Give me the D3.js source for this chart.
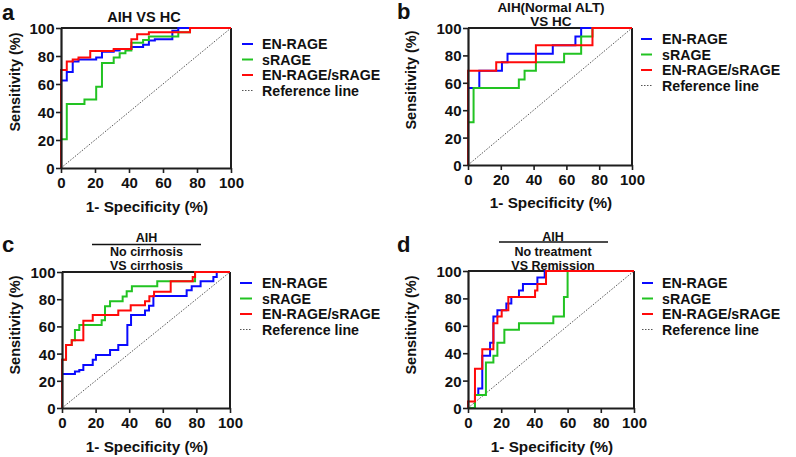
<!DOCTYPE html>
<html><head><meta charset="utf-8">
<script src="https://cdn.jsdelivr.net/npm/d3@7"></script>
<style>
body{margin:0;background:#fff}
svg{display:block}
text{font-family:"Liberation Sans",Arial,sans-serif;font-weight:bold;fill:#111}
</style>
</head><body>
<svg id="chart" width="796" height="457"></svg>
<script>
// ---------- data (1-specificity %, sensitivity %) ----------
const tickValues = [0, 20, 40, 60, 80, 100];
const legendLabels = ["EN-RAGE", "sRAGE", "EN-RAGE/sRAGE", "Reference line"];
const seriesColors = ["#0a0aff", "#22c322", "#ff0a0a"];

// Panel a: AIH VS HC
const aEnrageX = [0, 0, 3.4, 6.9, 10.3, 20.7, 24.1, 31, 34.5, 41.4, 48.3, 51.7, 55.2, 65.5, 69, 100];
const aEnrageY = [0, 62.5, 68.5, 76, 77.5, 79, 83, 84, 85, 86.5, 88, 91, 92, 98, 100, 100];
const aSrageX = [0, 0, 3.4, 13.8, 20.7, 24.1, 31, 34.5, 37.9, 41.4, 48.3, 51.7, 69, 75.9, 100];
const aSrageY = [0, 20.5, 45.7, 49, 58, 75, 79, 82, 84, 89.5, 91.5, 94, 97, 100, 100];
const aRatioX = [0, 0, 3.4, 6.9, 10.3, 17.2, 31, 41.4, 44.8, 51.7, 75.9, 100];
const aRatioY = [0, 70, 76, 77.5, 79, 83.5, 85, 92, 95.5, 97, 100, 100];

// Panel b: AIH(Normal ALT) VS HC
const bEnrageX = [0, 0, 6.9, 20.7, 24.1, 51.7, 65.5, 69, 100];
const bEnrageY = [0, 56.25, 68.75, 75, 81.25, 87.5, 93.75, 100, 100];
const bSrageX = [0, 0, 3.4, 31, 34.5, 41.4, 58.6, 69, 75.9, 100];
const bSrageY = [0, 31.25, 56.25, 62.5, 68.75, 75, 81.25, 93.75, 100, 100];
const bRatioX = [0, 0, 17.2, 41.4, 75.9, 100];
const bRatioY = [0, 68.75, 75, 87.5, 100, 100];

// Panel c: AIH No cirrhosis VS cirrhosis
const cEnrageX = [0, 0, 7.7, 10.3, 12.7, 18.3, 20.2, 28.6, 33.5, 38.9, 41.1, 49.4, 51.8, 54.4, 74.2, 77.2, 82.5, 90.1, 92.1, 100];
const cEnrageY = [0, 25, 26.8, 28, 31.7, 35.4, 39, 42.7, 46.3, 61, 68.3, 71.7, 75.1, 82.4, 86.6, 89.5, 93.2, 96.3, 100, 100];
const cSrageX = [0, 0, 2.4, 5.8, 7.7, 10.3, 23.6, 25.6, 28.6, 36.1, 38.5, 41.6, 56.7, 79.2, 100];
const cSrageY = [0, 35.4, 46.3, 49.8, 57.4, 61, 64.6, 74.9, 78.5, 82, 85.9, 89.5, 93.2, 100, 100];
const cRatioX = [0, 0, 2.4, 5.8, 12.7, 18.3, 33.5, 40.9, 49.4, 52, 54.8, 64.7, 77.8, 79.2, 100];
const cRatioY = [0, 35.4, 46.3, 49.8, 64.1, 68.3, 71.7, 75.6, 78.5, 82.2, 85.4, 93.2, 96.3, 100, 100];

// Panel d: AIH No treatment VS Remission
const dEnrageX = [0, 4.2, 6.2, 8.6, 13.3, 15.3, 17.7, 23.1, 26.1, 30.7, 33.1, 41.8, 46.2, 100];
const dEnrageY = [0, 9.5, 14.3, 38.1, 47.6, 66.7, 71.4, 76.2, 81, 85.7, 90.5, 95.2, 100, 100];
const dSrageX = [0, 4.2, 10.8, 15.3, 17.7, 21.9, 30.7, 51.4, 57.8, 60, 100];
const dSrageY = [0, 9.5, 33.3, 38.1, 47.6, 57.1, 61.9, 66.7, 81, 100, 100];
const dRatioX = [0, 0, 4.2, 8.6, 15.3, 17.7, 20.3, 24.3, 40.4, 41.8, 47, 100];
const dRatioY = [0, 4.76, 28.6, 42.9, 61.9, 66.7, 71.4, 81, 85.7, 90.5, 100, 100];

const aTitle = ["AIH VS HC"];
const bTitle = ["AIH(Normal ALT)", "VS HC"];
const cTitle = ["AIH", "No cirrhosis", "VS cirrhosis"];
const dTitle = ["AIH", "No treatment", "VS Remission"];
const xTitle = "1- Specificity (%)";
const yTitle = "Sensitivity (%)";

// ---------- layout ----------
const panels = [
  {letter:"a", lp:[2,20], x0:61, x1:231, y0:168, y1:28, series:[[aEnrageX,aEnrageY],[aSrageX,aSrageY],[aRatioX,aRatioY]],
   title:aTitle, tys:[21.5], tsize:14.5, tcx:144, rule:null,
   leg:{lx0:242, lx1:253, tx:262, ys:[44,59.5,75,90.5]}, ytx:15, yty:82, xty:212},
  {letter:"b", lp:[397,19], x0:468, x1:632, y0:165, y1:28, series:[[bEnrageX,bEnrageY],[bSrageX,bSrageY],[bRatioX,bRatioY]],
   title:bTitle, tys:[12,26], tsize:13.5, tcx:551, rule:null,
   leg:{lx0:641, lx1:652, tx:662, ys:[39,54.5,70,85.5]}, ytx:411, yty:80, xty:208},
  {letter:"c", lp:[2,252], x0:62, x1:230, y0:408, y1:272, series:[[cEnrageX,cEnrageY],[cSrageX,cSrageY],[cRatioX,cRatioY]],
   title:cTitle, tys:[242,256,270], tsize:12.5, tcx:146.5, rule:[92,201,244.5],
   leg:{lx0:240, lx1:252, tx:262, ys:[283,298.5,314,329.5]}, ytx:15, yty:325, xty:452},
  {letter:"d", lp:[397,252], x0:468, x1:634, y0:408, y1:271, series:[[dEnrageX,dEnrageY],[dSrageX,dSrageY],[dRatioX,dRatioY]],
   title:dTitle, tys:[240.5,255.5,270], tsize:12.5, tcx:553, rule:[499,608,242],
   leg:{lx0:642, lx1:653, tx:662, ys:[283,298.5,314,329.5]}, ytx:411, yty:325, xty:452}
];

const svg = d3.select("#chart");
const AX = "#1e1e1e";

panels.forEach(p => {
  const g = svg.append("g");
  const x = d3.scaleLinear().domain([0,100]).range([p.x0, p.x1]);
  const y = d3.scaleLinear().domain([0,100]).range([p.y0, p.y1]);

  // reference line
  g.append("line").attr("x1", x(0)).attr("y1", y(0)).attr("x2", x(100)).attr("y2", y(100))
    .attr("stroke", "#555").attr("stroke-width", 1).attr("stroke-dasharray", "1.5,1.5");

  // frame top / right
  g.append("line").attr("x1", x(0)).attr("x2", x(100)).attr("y1", y(100)).attr("y2", y(100)).attr("stroke", AX).attr("stroke-width", 2);
  g.append("line").attr("x1", x(100)).attr("x2", x(100)).attr("y1", y(0)).attr("y2", y(100)).attr("stroke", AX).attr("stroke-width", 2);

  // curves
  const line = d3.line().x(d => x(d[0])).y(d => y(d[1])).curve(d3.curveStepAfter);
  p.series.forEach((s, i) => {
    const pts = s[0].map((v, k) => [v, s[1][k]]);
    g.append("path").attr("d", line(pts)).attr("fill", "none")
      .attr("stroke", seriesColors[i]).attr("stroke-width", 2).attr("stroke-linejoin", "miter");
  });

  // axes
  const ya = g.append("g").attr("transform", `translate(${p.x0},0)`)
    .call(d3.axisLeft(y).tickValues(tickValues).tickSize(5).tickPadding(1.5).tickSizeOuter(0));
  const xa = g.append("g").attr("transform", `translate(0,${p.y0})`)
    .call(d3.axisBottom(x).tickValues(tickValues).tickSize(5).tickPadding(4).tickSizeOuter(0));
  [ya, xa].forEach(a => {
    a.select(".domain").attr("stroke", AX).attr("stroke-width", 2.2);
    a.selectAll(".tick line").attr("stroke", AX).attr("stroke-width", 1.6);
    a.selectAll(".tick text").attr("fill", "#111").style("font-size", "15px")
      .style("font-family", '"Liberation Sans",Arial,sans-serif').style("font-weight", "bold");
  });
  ya.selectAll(".tick text").attr("dy", "0.36em");

  // axis titles
  g.append("text").attr("x", (p.x0 + p.x1) / 2 + 1).attr("y", p.xty).attr("text-anchor", "middle")
    .style("font-size", "15.3px").text(xTitle);
  g.append("text").attr("transform", `translate(${p.ytx + 5},${p.yty}) rotate(-90)`).attr("text-anchor", "middle")
    .style("font-size", "14.5px").text(yTitle);

  // title
  p.title.forEach((t, i) => {
    g.append("text").attr("x", p.tcx).attr("y", p.tys[i]).attr("text-anchor", "middle")
      .style("font-size", p.tsize + "px").text(t);
  });
  if (p.rule) {
    g.append("line").attr("x1", p.rule[0]).attr("x2", p.rule[1]).attr("y1", p.rule[2]).attr("y2", p.rule[2])
      .attr("stroke", "#111").attr("stroke-width", 1.3);
  }

  // panel letter
  g.append("text").attr("x", p.lp[0]).attr("y", p.lp[1]).style("font-size", "22px").text(p.letter);

  // legend
  legendLabels.forEach((lab, i) => {
    const ly = p.leg.ys[i];
    const ln = g.append("line").attr("x1", p.leg.lx0).attr("x2", p.leg.lx1).attr("y1", ly).attr("y2", ly);
    if (i < 3) ln.attr("stroke", seriesColors[i]).attr("stroke-width", 2);
    else ln.attr("stroke", "#555").attr("stroke-width", 1).attr("stroke-dasharray", "1.5,1.5");
    g.append("text").attr("x", p.leg.tx).attr("y", ly).attr("dy", "0.36em")
      .style("font-size", "14.2px").text(lab);
  });
});
</script>
</body></html>
